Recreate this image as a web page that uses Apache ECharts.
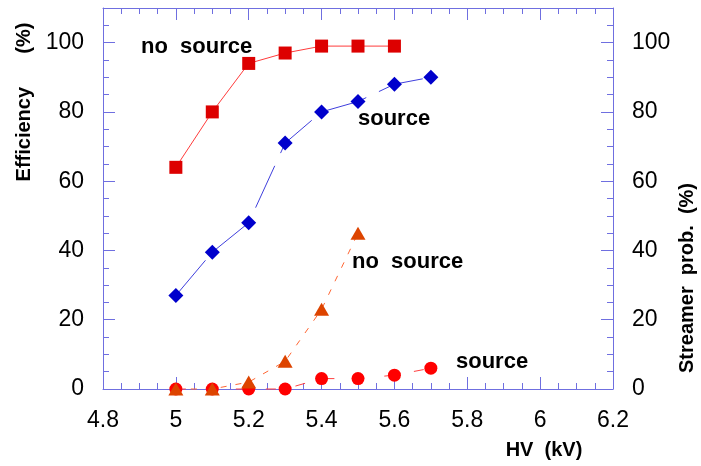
<!DOCTYPE html>
<html>
<head>
<meta charset="utf-8">
<script src="https://cdn.jsdelivr.net/npm/echarts@6/dist/echarts.min.js"></script>
<style>
  html, body { margin: 0; padding: 0; background: #fff; }
  #chart { width: 701px; height: 466px; }
</style>
</head>
<body>
<div id="chart"></div>
<script>
// High voltage settings (kV)
const hv = [5.0, 5.1, 5.2, 5.3, 5.4, 5.5, 5.6, 5.7];

// Efficiency (%)
const effNoSource = [64, 80, 94, 97, 99, 99, 99];
const effSource = [27, 39.5, 48, 71, 80, 83, 88, 90];

// Streamer probability (%)
const streamerNoSource = [0, 0, 2, 8, 23, 45];
const streamerSource = [0, 0, 0, 0, 3, 3, 4, 6];

const xTicks = { min: 4.8, max: 6.2, step: 0.2 };
const yTicks = { min: 0, max: 110, step: 20 };

const pairs = (vals) => vals.map((v, i) => [hv[i], v]);

const axisColor = '#6f6fe0';
const font = "'Liberation Sans', Arial, sans-serif";

const chart = echarts.init(document.getElementById('chart'), null, { renderer: 'canvas' });

const yAxisBase = (pos, showLabel) => ({
  type: 'value',
  position: pos,
  min: yTicks.min,
  max: yTicks.max,
  interval: yTicks.step,
  axisLine: { show: true, lineStyle: { color: axisColor, width: 1 } },
  axisTick: { show: true, inside: true, length: 12, lineStyle: { color: axisColor } },
  minorTick: { show: true, splitNumber: 4, length: 6, lineStyle: { color: axisColor } },
  splitLine: { show: false },
  axisLabel: {
    show: showLabel, margin: 19, color: '#000', fontSize: 23, fontFamily: font,
    showMaxLabel: false,
    formatter: (v) => (v > 100 ? '' : String(v))
  }
});

const xAxisBase = (pos, showLabel) => ({
  type: 'value',
  position: pos,
  min: xTicks.min,
  max: xTicks.max,
  interval: xTicks.step,
  axisLine: { show: true, onZero: false, lineStyle: { color: axisColor, width: 1 } },
  axisTick: { show: true, inside: true, length: 12, lineStyle: { color: axisColor } },
  minorTick: { show: true, splitNumber: 4, length: 6, lineStyle: { color: axisColor } },
  splitLine: { show: false },
  axisLabel: {
    show: showLabel, margin: 20, color: '#000', fontSize: 23, fontFamily: font,
    formatter: (v) => String(Math.round(v * 10) / 10)
  }
});

const annot = (text, x, y) => ({
  type: 'text', left: x, top: y,
  style: { text, fill: '#000', font: "bold 22px 'Liberation Sans', Arial, sans-serif" }
});

chart.setOption({
  animation: false,
  backgroundColor: '#fff',
  grid: { left: 103, right: 88, top: 8, bottom: 77, containLabel: false },
  xAxis: [xAxisBase('bottom', true), xAxisBase('top', false)],
  yAxis: [yAxisBase('left', true), yAxisBase('right', true)],
  graphic: [
    {
      type: 'text', x: 24, y: 102, rotation: Math.PI / 2,
      style: {
        text: 'Efficiency      (%)', fill: '#000', align: 'center', verticalAlign: 'middle',
        font: "bold 20px 'Liberation Sans', Arial, sans-serif"
      }
    },
    {
      type: 'text', x: 687, y: 278, rotation: Math.PI / 2,
      style: {
        text: 'Streamer  prob.  (%)', fill: '#000', align: 'center', verticalAlign: 'middle',
        font: "bold 20px 'Liberation Sans', Arial, sans-serif"
      }
    },
    {
      type: 'text', x: 544, y: 450,
      style: {
        text: 'HV  (kV)', fill: '#000', align: 'center', verticalAlign: 'middle',
        font: "bold 20px 'Liberation Sans', Arial, sans-serif"
      }
    },
    annot('no  source', 141, 36),
    annot('source', 358, 108),
    annot('no  source', 352, 251),
    annot('source', 456, 351)
  ],
  series: [
    {
      name: 'Efficiency (no source)', type: 'line', xAxisIndex: 0, yAxisIndex: 0,
      data: pairs(effNoSource), clip: false,
      symbol: 'rect', symbolSize: 13,
      itemStyle: { color: '#dd0000' },
      lineStyle: { color: '#ff3b3b', width: 1 }
    },
    {
      name: 'Efficiency (source)', type: 'line', xAxisIndex: 0, yAxisIndex: 0,
      data: pairs(effSource), clip: false,
      symbol: 'diamond', symbolSize: 15,
      itemStyle: { color: '#0000cc' },
      lineStyle: { color: '#3f3fdd', width: 1, type: [46, 14] }
    },
    {
      name: 'Streamer (source)', type: 'line', xAxisIndex: 0, yAxisIndex: 1,
      data: pairs(streamerSource), clip: false,
      symbol: 'circle', symbolSize: 13,
      itemStyle: { color: '#ff0000' },
      lineStyle: { color: '#ff4040', width: 1, type: [10, 20] }
    },
    {
      name: 'Streamer (no source)', type: 'line', xAxisIndex: 0, yAxisIndex: 1,
      data: pairs(streamerNoSource), clip: false,
      symbol: 'triangle', symbolSize: [15, 13],
      itemStyle: { color: '#dd4400' },
      lineStyle: { color: '#ff6633', width: 1, type: [6, 9] }
    }
  ]
});
</script>
</body>
</html>
